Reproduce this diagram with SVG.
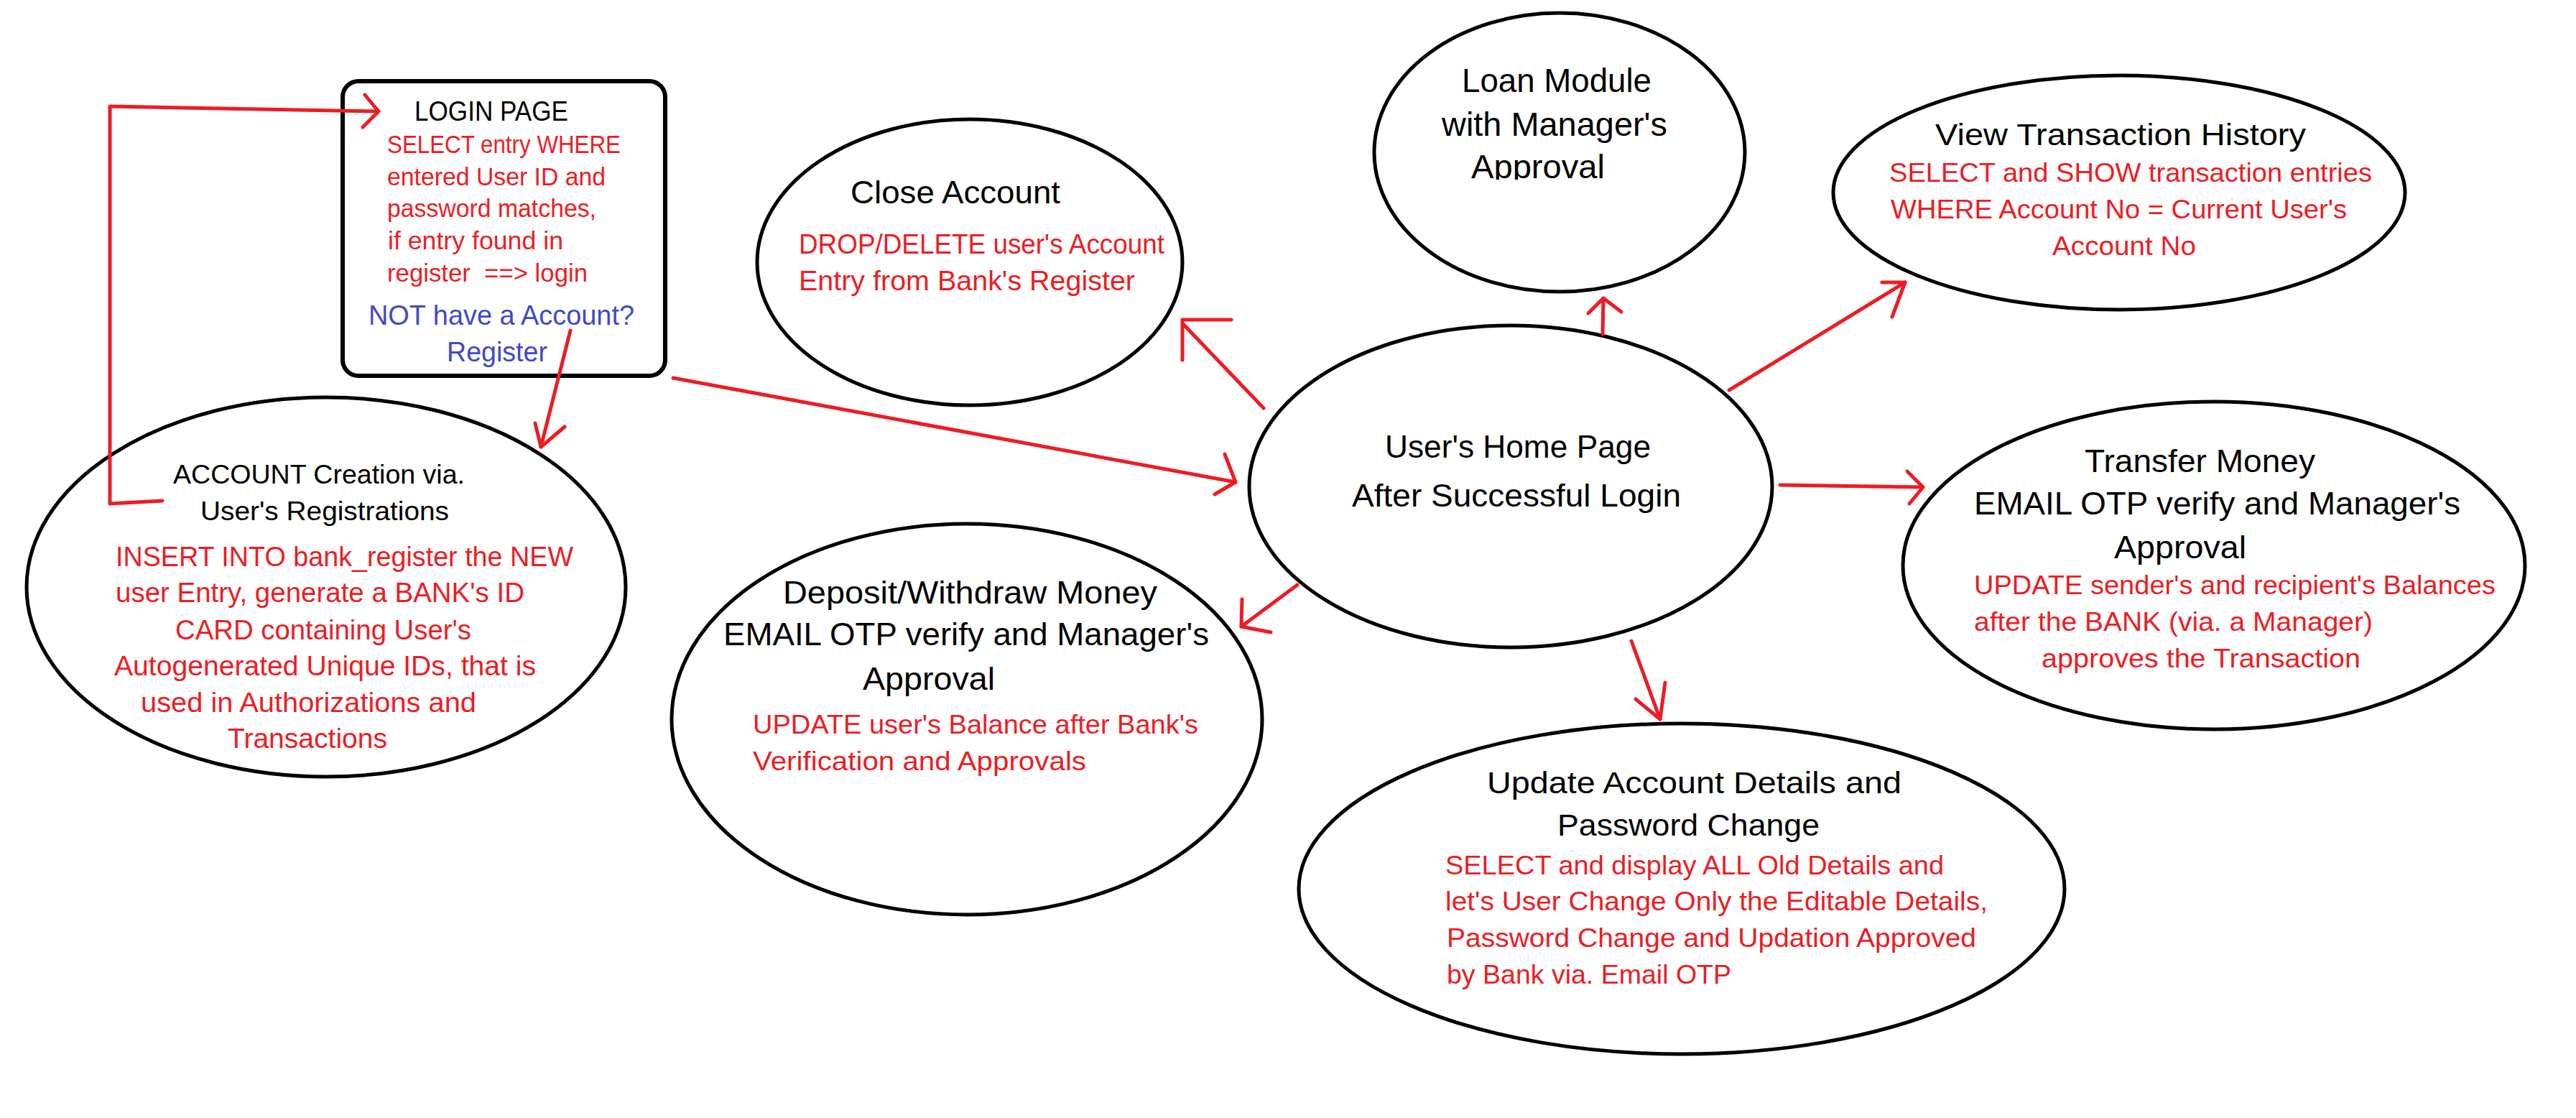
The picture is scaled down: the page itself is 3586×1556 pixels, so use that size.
<svg xmlns="http://www.w3.org/2000/svg" width="3586" height="1556" viewBox="0 0 3586 1556">
<style>
.node{fill:#fff;stroke:#000;stroke-width:5}
.box{fill:#fff;stroke:#000;stroke-width:6}
text{font-family:"Liberation Sans","Open Sans",sans-serif}
.t{fill:#000;font-size:44px}
.r{fill:#ED1C24;font-size:36px}
.b{fill:#3F48CC;font-size:39px}
.c{fill:none;stroke:#ED1C24;stroke-width:5;stroke-linecap:round;stroke-linejoin:round}
</style>
<defs>
<clipPath id="loanClip"><rect x="1990" y="190" width="360" height="60"/></clipPath>
</defs>
<rect width="3586" height="1556" fill="#fff"/>

<g id="login">
<rect class="box" x="477" y="113" width="449" height="410" rx="22" ry="22"/>
<text class="t" style="font-size:38px" x="577" y="168" textLength="214" lengthAdjust="spacingAndGlyphs">LOGIN PAGE</text>
<text class="r" style="font-size:35px" x="539" y="213" textLength="325" lengthAdjust="spacingAndGlyphs">SELECT entry WHERE</text>
<text class="r" style="font-size:35px" x="539" y="258" textLength="304" lengthAdjust="spacingAndGlyphs">entered User ID and</text>
<text class="r" style="font-size:35px" x="539" y="302" textLength="291" lengthAdjust="spacingAndGlyphs">password matches,</text>
<text class="r" style="font-size:35px" x="540" y="347" textLength="244" lengthAdjust="spacingAndGlyphs">if entry found in</text>
<text class="r" style="font-size:35px" x="539" y="392" textLength="279" lengthAdjust="spacingAndGlyphs" xml:space="preserve">register  ==&gt; login</text>
<text class="b" x="513" y="452" textLength="370" lengthAdjust="spacingAndGlyphs">NOT have a Account?</text>
<text class="b" x="622" y="503" textLength="140" lengthAdjust="spacingAndGlyphs">Register</text>
</g>

<g id="account-creation">
<ellipse class="node" cx="454" cy="817" rx="417" ry="264"/>
<text class="t" style="font-size:36px" x="241" y="673" textLength="406" lengthAdjust="spacingAndGlyphs">ACCOUNT Creation via.</text>
<text class="t" style="font-size:36px" x="279" y="724" textLength="346" lengthAdjust="spacingAndGlyphs">User's Registrations</text>
<text class="r" style="font-size:38px" x="161" y="788" textLength="637" lengthAdjust="spacingAndGlyphs">INSERT INTO bank_register the NEW</text>
<text class="r" style="font-size:38px" x="161" y="838" textLength="569" lengthAdjust="spacingAndGlyphs">user Entry, generate a BANK's ID</text>
<text class="r" style="font-size:38px" x="244" y="890" textLength="412" lengthAdjust="spacingAndGlyphs">CARD containing User's</text>
<text class="r" style="font-size:38px" x="159" y="940" textLength="587" lengthAdjust="spacingAndGlyphs">Autogenerated Unique IDs, that is</text>
<text class="r" style="font-size:38px" x="196" y="991" textLength="467" lengthAdjust="spacingAndGlyphs">used in Authorizations and</text>
<text class="r" style="font-size:38px" x="317" y="1041" textLength="222" lengthAdjust="spacingAndGlyphs">Transactions</text>
</g>

<g id="close-account">
<ellipse class="node" cx="1350" cy="365" rx="296" ry="199"/>
<text class="t" style="font-size:45px" x="1184" y="283" textLength="292" lengthAdjust="spacingAndGlyphs">Close Account</text>
<text class="r" style="font-size:38px" x="1112" y="353" textLength="509" lengthAdjust="spacingAndGlyphs">DROP/DELETE user's Account</text>
<text class="r" style="font-size:38px" x="1112" y="404" textLength="468" lengthAdjust="spacingAndGlyphs">Entry from Bank's Register</text>
</g>

<g id="loan-module">
<ellipse class="node" cx="2171" cy="212" rx="258" ry="194"/>
<text class="t" style="font-size:46px" x="2035" y="128" textLength="264" lengthAdjust="spacingAndGlyphs">Loan Module</text>
<text class="t" style="font-size:46px" x="2007" y="189" textLength="314" lengthAdjust="spacingAndGlyphs">with Manager's</text>
<text class="t" style="font-size:46px" x="2048" y="248" textLength="186" lengthAdjust="spacingAndGlyphs" clip-path="url(#loanClip)">Approval</text>
</g>

<g id="view-transaction-history">
<ellipse class="node" cx="2950" cy="268" rx="398" ry="163"/>
<text class="t" style="font-size:42px" x="2694" y="202" textLength="516" lengthAdjust="spacingAndGlyphs">View Transaction History</text>
<text class="r" x="2630" y="253" textLength="672" lengthAdjust="spacingAndGlyphs">SELECT and SHOW transaction entries</text>
<text class="r" x="2632" y="304" textLength="635" lengthAdjust="spacingAndGlyphs">WHERE Account No = Current User's</text>
<text class="r" x="2857" y="355" textLength="200" lengthAdjust="spacingAndGlyphs">Account No</text>
</g>

<g id="home-page">
<ellipse class="node" cx="2103" cy="677" rx="364" ry="224"/>
<text class="t" style="font-size:45px" x="1928" y="637" textLength="370" lengthAdjust="spacingAndGlyphs">User's Home Page</text>
<text class="t" style="font-size:45px" x="1882" y="705" textLength="458" lengthAdjust="spacingAndGlyphs">After Successful Login</text>
</g>

<g id="transfer-money">
<ellipse class="node" cx="3082" cy="787" rx="433" ry="228"/>
<text class="t" x="2902" y="657" textLength="321" lengthAdjust="spacingAndGlyphs">Transfer Money</text>
<text class="t" x="2748" y="716" textLength="677" lengthAdjust="spacingAndGlyphs">EMAIL OTP verify and Manager's</text>
<text class="t" x="2943" y="777" textLength="184" lengthAdjust="spacingAndGlyphs">Approval</text>
<text class="r" x="2748" y="827" textLength="726" lengthAdjust="spacingAndGlyphs">UPDATE sender's and recipient's Balances</text>
<text class="r" x="2748" y="878" textLength="555" lengthAdjust="spacingAndGlyphs">after the BANK (via. a Manager)</text>
<text class="r" x="2842" y="929" textLength="444" lengthAdjust="spacingAndGlyphs">approves the Transaction</text>
</g>

<g id="deposit-withdraw">
<ellipse class="node" cx="1346" cy="1001" rx="411" ry="272"/>
<text class="t" x="1090" y="840" textLength="521" lengthAdjust="spacingAndGlyphs">Deposit/Withdraw Money</text>
<text class="t" x="1007" y="898" textLength="676" lengthAdjust="spacingAndGlyphs">EMAIL OTP verify and Manager's</text>
<text class="t" x="1201" y="960" textLength="184" lengthAdjust="spacingAndGlyphs">Approval</text>
<text class="r" x="1048" y="1021" textLength="620" lengthAdjust="spacingAndGlyphs">UPDATE user's Balance after Bank's</text>
<text class="r" x="1048" y="1072" textLength="464" lengthAdjust="spacingAndGlyphs">Verification and Approvals</text>
</g>

<g id="update-account">
<ellipse class="node" cx="2341" cy="1237" rx="533" ry="230"/>
<text class="t" style="font-size:43px" x="2070" y="1104" textLength="577" lengthAdjust="spacingAndGlyphs">Update Account Details and</text>
<text class="t" style="font-size:43px" x="2168" y="1163" textLength="365" lengthAdjust="spacingAndGlyphs">Password Change</text>
<text class="r" x="2012" y="1217" textLength="694" lengthAdjust="spacingAndGlyphs">SELECT and display ALL Old Details and</text>
<text class="r" x="2012" y="1267" textLength="755" lengthAdjust="spacingAndGlyphs">let's User Change Only the Editable Details,</text>
<text class="r" x="2014" y="1318" textLength="737" lengthAdjust="spacingAndGlyphs">Password Change and Updation Approved</text>
<text class="r" x="2014" y="1369" textLength="396" lengthAdjust="spacingAndGlyphs">by Bank via. Email OTP</text>
</g>

<g id="connectors">
<polyline class="c" points="226,697 153,701 153,148 527,155"/>
<polyline class="c" points="508,132 527,155 505,177"/>
<line class="c" x1="794" y1="460" x2="753" y2="622"/>
<polyline class="c" points="745,589 753,622 786,594"/>
<line class="c" x1="937" y1="526" x2="1720" y2="671"/>
<polyline class="c" points="1705,632 1720,671 1691,688"/>
<line class="c" x1="1759" y1="568" x2="1648" y2="452"/>
<polyline class="c" points="1714,445 1646,445 1646,501"/>
<line class="c" x1="2231" y1="465" x2="2232" y2="415"/>
<polyline class="c" points="2211,436 2232,415 2257,434"/>
<line class="c" x1="2407" y1="543" x2="2652" y2="393"/>
<polyline class="c" points="2620,393 2652,393 2634,441"/>
<line class="c" x1="2478" y1="675" x2="2677" y2="678"/>
<polyline class="c" points="2655,656 2677,678 2658,701"/>
<line class="c" x1="1806" y1="814" x2="1728" y2="872"/>
<polyline class="c" points="1729,834 1728,872 1769,880"/>
<line class="c" x1="2271" y1="892" x2="2311" y2="1001"/>
<polyline class="c" points="2277,973 2311,1001 2318,950"/>
</g>
</svg>
